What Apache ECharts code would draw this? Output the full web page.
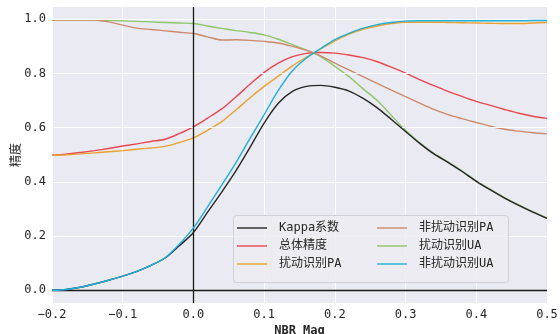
<!DOCTYPE html>
<html>
<head>
<meta charset="utf-8">
<script src="https://cdn.jsdelivr.net/npm/echarts@6/dist/echarts.min.js"></script>
<style>
html,body{margin:0;padding:0;background:#fff;}
#c{width:560px;height:334px;}
</style>
</head>
<body>
<div id="c"></div>
<script>
// NBR Mag thresholds
var xs = [-0.20,-0.18,-0.16,-0.14,-0.12,-0.10,-0.08,-0.06,-0.04,-0.02,0.00,0.02,0.04,0.06,0.08,0.10,0.12,0.14,0.16,0.18,0.20,0.22,0.24,0.26,0.28,0.30,0.32,0.34,0.36,0.38,0.40,0.42,0.44,0.46,0.48,0.50];
var kappa = [0.000,0.003,0.011,0.023,0.037,0.052,0.070,0.092,0.119,0.164,0.213,0.288,0.362,0.440,0.527,0.617,0.690,0.734,0.752,0.756,0.749,0.735,0.708,0.673,0.630,0.586,0.542,0.503,0.472,0.438,0.402,0.370,0.340,0.313,0.288,0.265];
var overall = [0.498,0.502,0.508,0.515,0.523,0.532,0.540,0.549,0.557,0.578,0.603,0.635,0.669,0.713,0.760,0.804,0.838,0.862,0.874,0.877,0.875,0.868,0.858,0.843,0.823,0.801,0.777,0.755,0.734,0.715,0.697,0.682,0.667,0.653,0.642,0.634];
var distPA = [0.498,0.500,0.503,0.507,0.511,0.515,0.520,0.525,0.531,0.545,0.562,0.590,0.622,0.665,0.710,0.752,0.790,0.828,0.860,0.890,0.920,0.945,0.963,0.975,0.984,0.989,0.989,0.989,0.988,0.987,0.986,0.985,0.984,0.984,0.986,0.988];
var nonDistPA = [0.997,0.997,0.997,0.997,0.990,0.978,0.967,0.962,0.957,0.952,0.947,0.935,0.923,0.924,0.922,0.918,0.912,0.900,0.885,0.865,0.838,0.813,0.788,0.763,0.738,0.714,0.690,0.667,0.648,0.633,0.619,0.605,0.594,0.587,0.581,0.577];
var distUA = [0.997,0.997,0.997,0.997,0.996,0.994,0.992,0.990,0.988,0.986,0.984,0.975,0.966,0.958,0.951,0.942,0.926,0.906,0.886,0.862,0.826,0.788,0.743,0.700,0.645,0.590,0.544,0.505,0.474,0.440,0.404,0.372,0.342,0.315,0.290,0.267];
var nonDistUA = [0.000,0.003,0.011,0.023,0.037,0.052,0.070,0.092,0.120,0.170,0.230,0.308,0.388,0.470,0.560,0.648,0.737,0.810,0.857,0.892,0.925,0.948,0.967,0.980,0.988,0.993,0.994,0.994,0.994,0.994,0.994,0.994,0.994,0.994,0.995,0.995];
var yTicks = [0.0,0.2,0.4,0.6,0.8,1.0];
var names = ['Kappa系数','总体精度','扰动识别PA','非扰动识别PA','扰动识别UA','非扰动识别UA'];
var colors = ['#262626','#e8474f','#eba12e','#cc8a6c','#8dc66a','#1fb0d6'];

var MONO = '"DejaVu Sans Mono", "Noto Sans CJK SC", monospace';
function pairs(ys){ return xs.map(function(x,i){ return [x, ys[i]]; }); }
var all = [kappa, overall, distPA, nonDistPA, distUA, nonDistUA];
var zs = [5,3,3,3,2,6];

var series = [{
  type:'line', data:[], z:1, silent:true, symbol:'none',
  markLine:{
    silent:true, symbol:['none','none'], animation:false,
    label:{show:false},
    lineStyle:{color:'#ffffff', width:1, type:'solid'},
    data: yTicks.map(function(v){ return {yAxis:v}; })
  }
},{
  type:'line', data:[], z:7, silent:true, symbol:'none',
  markLine:{
    silent:true, symbol:['none','none'], animation:false,
    label:{show:false},
    lineStyle:{color:'#1a1a1a', width:1.3, type:'solid'},
    data:[{yAxis:0},{xAxis:0}]
  }
}];
names.forEach(function(n,i){
  series.push({
    name:n, type:'line', data:pairs(all[i]), symbol:'none', showSymbol:false,
    smooth:0.3, z:zs[i],
    lineStyle:{color:colors[i], width:1.4},
    itemStyle:{color:colors[i]}
  });
});

var legendCommon = {
  orient:'vertical', itemWidth:30, itemHeight:14, itemGap:6, padding:0,
  icon:'path://M0,0L30,0L30,1.4L0,1.4Z',
  textStyle:{fontFamily:MONO, fontSize:12, color:'#262626', padding:[0,0,0,7]},
  selectedMode:false
};

var chart = echarts.init(document.getElementById('c'), null, {renderer:'canvas'});
chart.setOption({
  animation:false,
  backgroundColor:'#ffffff',
  grid:{left:52, right:13, top:7, bottom:31, show:true, backgroundColor:'#EAEAF2', borderWidth:0,
        containLabel:false, outerBoundsMode:'none'},
  graphic:[{
    type:'rect', left:233, top:215, z:50,
    shape:{width:275, height:67, r:3},
    style:{fill:'rgba(236,236,242,0.85)', stroke:'#d0d0d6', lineWidth:1}
  }],
  legend:[
    Object.assign({}, legendCommon, {left:237, top:222, data:names.slice(0,3), z:60}),
    Object.assign({}, legendCommon, {left:377, top:222, data:names.slice(3,6), z:60})
  ],
  xAxis:{
    type:'value', min:-0.2, max:0.5, interval:0.1,
    name:'NBR Mag', nameLocation:'middle', nameGap:22, nameMoveOverlap:false,
    nameTextStyle:{fontFamily:MONO, fontSize:12, fontWeight:'bold', color:'#262626'},
    axisLine:{show:false}, axisTick:{show:false},
    axisLabel:{fontFamily:MONO, fontSize:12, color:'#262626', margin:6,
      formatter:function(v){ return v.toFixed(1).replace('-','\u2212'); }},
    splitLine:{show:true, lineStyle:{color:'#ffffff', width:1}}
  },
  yAxis:{
    type:'value', min:-0.047, max:1.045,
    name:'精度', nameLocation:'middle', nameGap:31, nameRotate:90, nameMoveOverlap:false,
    nameTextStyle:{fontFamily:'"Noto Sans CJK SC", sans-serif', fontSize:12, color:'#262626'},
    axisLine:{show:false}, axisTick:{show:false},
    axisLabel:{fontFamily:MONO, fontSize:12, color:'#262626', margin:6,
      customValues:yTicks,
      formatter:function(v){ return v.toFixed(1); }},
    splitLine:{show:false}
  },
  series:series
});
</script>
</body>
</html>
